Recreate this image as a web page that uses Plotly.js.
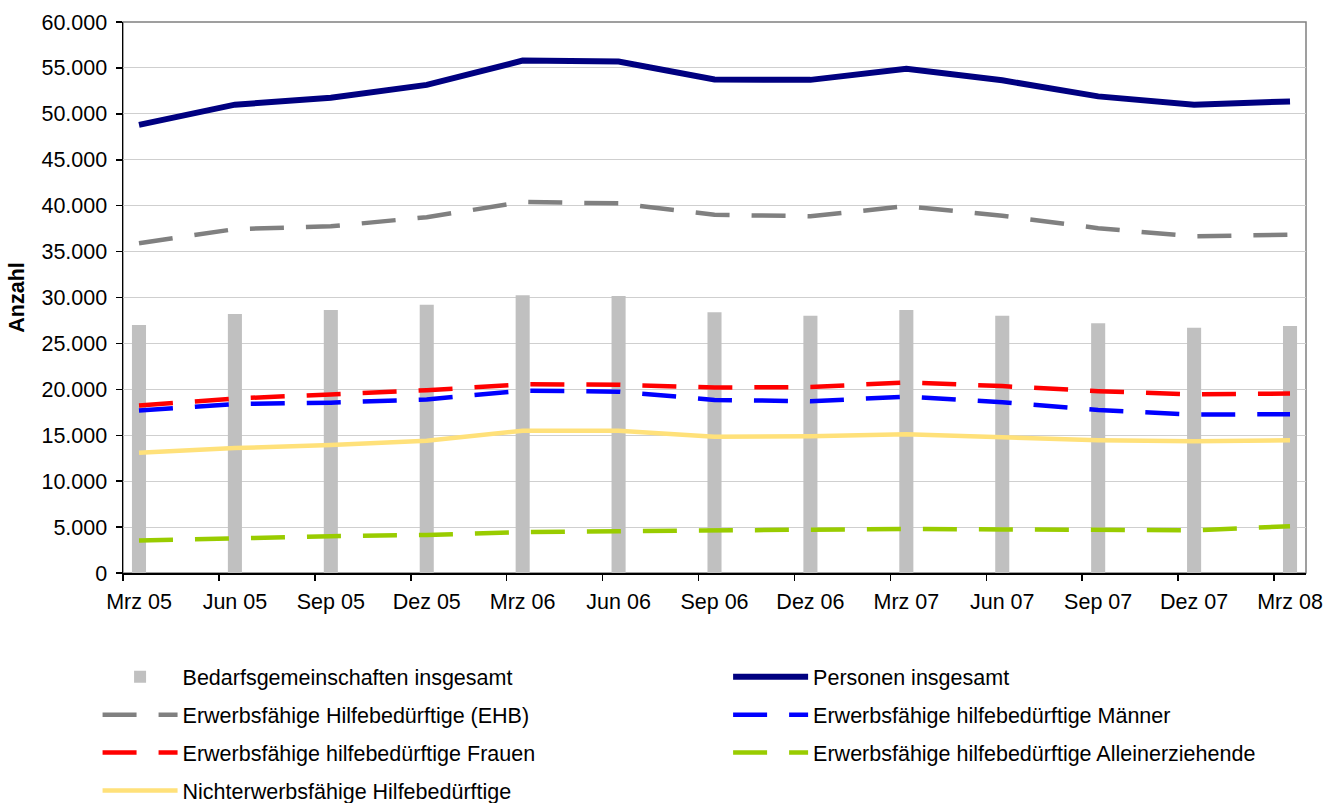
<!DOCTYPE html>
<html>
<head>
<meta charset="utf-8">
<script src="https://cdn.plot.ly/plotly-3.0.1.min.js"></script>
<style>
  html, body { margin: 0; padding: 0; background: #ffffff; }
  #chart { width: 1324px; height: 803px; }
</style>
</head>
<body>
<div id="chart"></div>
<script>
// Quarterly reference dates (German month abbreviations)
const categories = ['Mrz 05','Jun 05','Sep 05','Dez 05','Mrz 06','Jun 06','Sep 06','Dez 06','Mrz 07','Jun 07','Sep 07','Dez 07','Mrz 08'];
// months elapsed since March 2005 for each category (date axis, monthly base unit)
const monthsSinceStart = [0, 3, 6, 9, 12, 15, 18, 21, 24, 27, 30, 33, 36];

const bedarfsgemeinschaften = [27000, 28200, 28650, 29200, 30250, 30150, 28400, 28000, 28650, 28000, 27200, 26700, 26900];
const personen = [48800, 51000, 51750, 53150, 55800, 55700, 53750, 53700, 54900, 53650, 51900, 51000, 51350];
const ehb = [35900, 37450, 37750, 38750, 40400, 40250, 39000, 38850, 39950, 38900, 37550, 36650, 36850];
const maenner = [17700, 18400, 18550, 18900, 19850, 19750, 18850, 18700, 19200, 18600, 17750, 17250, 17300];
const frauen = [18250, 19000, 19450, 19900, 20550, 20500, 20200, 20250, 20750, 20350, 19800, 19450, 19550];
const alleinerziehende = [3550, 3800, 4000, 4150, 4450, 4550, 4650, 4700, 4800, 4750, 4700, 4650, 5100];
const nichterwerbsfaehige = [13100, 13600, 13950, 14400, 15500, 15500, 14850, 14900, 15100, 14800, 14450, 14350, 14450];

const seriesNames = [
  'Bedarfsgemeinschaften insgesamt',
  'Personen insgesamt',
  'Erwerbsfähige Hilfebedürftige (EHB)',
  'Erwerbsfähige hilfebedürftige Männer',
  'Erwerbsfähige hilfebedürftige Frauen',
  'Erwerbsfähige hilfebedürftige Alleinerziehende',
  'Nichterwerbsfähige Hilfebedürftige'
];

const FONT = 'Liberation Sans, Arial, sans-serif';
const FS = 21.5;
const longDash = '34px,22px';

const traces = [
  {
    type: 'bar', name: seriesNames[0], x: monthsSinceStart, y: bedarfsgemeinschaften,
    width: 0.44, marker: {color: '#C0C0C0', line: {width: 0}},
    legend: 'legend', legendgroup: 'g0', legendrank: 1
  },
  {
    type: 'scatter', mode: 'lines', name: seriesNames[6], x: monthsSinceStart, y: nichterwerbsfaehige,
    line: {color: '#FFE17A', width: 4.5},
    legend: 'legend', legendgroup: 'g6', legendrank: 4
  },
  {
    type: 'scatter', mode: 'lines', name: seriesNames[5], x: monthsSinceStart, y: alleinerziehende,
    line: {color: '#99CC00', width: 4.5, dash: longDash},
    legend: 'legend2', legendgroup: 'g5', legendrank: 3
  },
  {
    type: 'scatter', mode: 'lines', name: seriesNames[4], x: monthsSinceStart, y: frauen,
    line: {color: '#FF0000', width: 4.5, dash: longDash},
    legend: 'legend', legendgroup: 'g4', legendrank: 3
  },
  {
    type: 'scatter', mode: 'lines', name: seriesNames[3], x: monthsSinceStart, y: maenner,
    line: {color: '#0000FF', width: 4.5, dash: longDash},
    legend: 'legend2', legendgroup: 'g3', legendrank: 2
  },
  {
    type: 'scatter', mode: 'lines', name: seriesNames[2], x: monthsSinceStart, y: ehb,
    line: {color: '#808080', width: 4.5, dash: longDash},
    legend: 'legend', legendgroup: 'g2', legendrank: 2
  },
  {
    type: 'scatter', mode: 'lines', name: seriesNames[1], x: monthsSinceStart, y: personen,
    line: {color: '#000080', width: 6},
    legend: 'legend2', legendgroup: 'g1', legendrank: 1
  }
];

const legendCommon = {
  orientation: 'v',
  font: {family: FONT, size: FS, color: '#000000'},
  bgcolor: 'rgba(0,0,0,0)',
  borderwidth: 0,
  tracegroupgap: 7,
  itemwidth: 75,
  traceorder: 'grouped',
  xanchor: 'left',
  yanchor: 'top',
  itemclick: false,
  itemdoubleclick: false
};

const layout = {
  width: 1324,
  height: 803,
  margin: {l: 123, r: 18, t: 22, b: 230, pad: 0, autoexpand: false},
  paper_bgcolor: '#ffffff',
  plot_bgcolor: '#ffffff',
  separators: ',.',
  font: {family: FONT, size: FS, color: '#000000'},
  showlegend: true,
  barmode: 'overlay',
  xaxis: {
    type: 'linear',
    range: [-0.5, 36.5],
    tickmode: 'array',
    tickvals: monthsSinceStart,
    ticktext: categories,
    ticks: '',
    showgrid: false,
    zeroline: false,
    showline: true,
    linecolor: '#000000',
    linewidth: 1.5,
    tickfont: {family: FONT, size: FS, color: '#000000'},
    ticklabelstandoff: 9,
    automargin: false,
    minor: {
      tickmode: 'linear',
      tick0: -0.5,
      dtick: 3,
      ticks: 'outside',
      ticklen: 6,
      tickwidth: 1.5,
      tickcolor: '#000000',
      showgrid: false
    },
    fixedrange: true
  },
  yaxis: {
    range: [0, 60000],
    tickmode: 'linear',
    tick0: 0,
    dtick: 5000,
    tickformat: ',d',
    ticks: 'outside',
    ticklen: 6,
    tickwidth: 1.5,
    tickcolor: '#000000',
    showgrid: true,
    gridcolor: '#CFCFCF',
    gridwidth: 1,
    zeroline: false,
    showline: true,
    linecolor: '#000000',
    linewidth: 1.5,
    automargin: false,
    tickfont: {family: FONT, size: FS, color: '#000000'},
    ticklabelstandoff: 4,
    title: {text: '<b>Anzahl</b>', font: {family: FONT, size: FS, color: '#000000'}, standoff: 11},
    fixedrange: true
  },
  shapes: [
    {type: 'rect', xref: 'paper', yref: 'paper', x0: 0, x1: 1, y0: 0, y1: 1,
     line: {color: '#808080', width: 1.5}, fillcolor: 'rgba(0,0,0,0)', layer: 'below'}
  ],
  legend: Object.assign({}, legendCommon, {x: -0.0215, y: -0.151}),
  legend2: Object.assign({}, legendCommon, {x: 0.5115, y: -0.151})
};

Plotly.newPlot('chart', traces, layout, {displayModeBar: false, staticPlot: true});
</script>
</body>
</html>
